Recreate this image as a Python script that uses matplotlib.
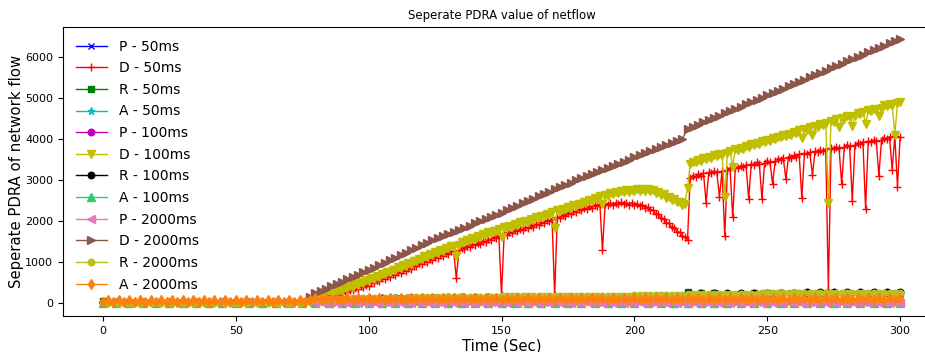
import matplotlib
matplotlib.use('Agg')
import matplotlib.pyplot as plt
import numpy as np

# ---------------- data ----------------
# dense series (one sample per second from t=78 s)
t_dense = np.arange(78, 301)

d_50ms = [10, 60,
          50, 110, 86, 150, 122, 185, 158, 220, 194, 255,
          230, 290, 266, 325, 302, 365, 340, 400, 380, 445,
          420, 490, 472, 545, 524, 595, 576, 650, 628, 700,
          680, 750, 732, 805, 784, 855, 837, 910, 891, 965,
          945, 1015, 997, 1070, 1049, 1120, 1100, 1170, 1150, 1220,
          1200, 1265, 1240, 600, 1280, 1345, 1320, 1385, 1360, 1425,
          1400, 1470, 1444, 1510, 1488, 1555, 1532, 1600, 1576, 1645,
          195, 1685, 1660, 1725, 1700, 1765, 1740, 1805, 1780, 1845,
          1820, 1885, 1860, 1925, 1900, 1965, 1942, 2010, 1986, 2055,
          195, 2100, 2078, 2145, 2126, 2195, 2170, 2235, 2210, 2275,
          2250, 2310, 2286, 2350, 2322, 2385, 2350, 2405, 1280, 2420,
          2385, 2435, 2391, 2440, 2397, 2445, 2398, 2440, 2394, 2435,
          2390, 2420, 2364, 2395, 2323, 2340, 2270, 2265, 2170, 2165,
          2063, 2050, 1950, 1940, 1843, 1835, 1733, 1720, 1620, 1615,
          1540, 3050, 3100, 3075, 3130, 3100, 3155, 2440, 3180, 3155,
          3210, 3180, 2590, 3210, 1630, 3235, 3290, 2080, 3315, 3290,
          3340, 3315, 3365, 2540, 3390, 3365, 3420, 3390, 2540, 3415,
          3460, 3435, 2900, 3460, 3515, 3490, 3540, 3020, 3565, 3540,
          3590, 3565, 3615, 2560, 3640, 3615, 3670, 3120, 3695, 3665,
          3720, 3695, 3745, 320, 3770, 3745, 3800, 3770, 2900, 3795,
          3850, 3820, 2490, 3850, 3900, 3870, 3925, 2290, 3950, 3920,
          3970, 3945, 3100, 3970, 4025, 3995, 4045, 3240, 4070, 2830,
          4050]

d_100ms = [20, 90,
           75, 140, 120, 180, 160, 220, 210, 280, 260, 325,
           305, 370, 350, 415, 395, 460, 440, 505, 485, 550,
           535, 600, 590, 655, 640, 705, 695, 760, 745, 810,
           800, 865, 850, 915, 900, 970, 955, 1020, 1010, 1075,
           1060, 1130, 1115, 1180, 1170, 1235, 1220, 1290, 1275, 1340,
           1325, 1390, 1375, 1130, 1420, 1490, 1475, 1540, 1520, 1585,
           1565, 1630, 1610, 1670, 1655, 1715, 1700, 1760, 1745, 1805,
           1610, 1840, 1820, 1880, 1860, 1920, 1900, 1960, 1940, 2000,
           1980, 2040, 2020, 2080, 2065, 2125, 2105, 2165, 2150, 2210,
           1830, 2250, 2230, 2290, 2275, 2335, 2315, 2380, 2360, 2420,
           2400, 2460, 2445, 2505, 2490, 2550, 2530, 2595, 2400, 2630,
           2610, 2665, 2640, 2695, 2670, 2725, 2695, 2745, 2710, 2755,
           2720, 2765, 2730, 2770, 2730, 2765, 2715, 2740, 2680, 2695,
           2630, 2640, 2565, 2580, 2510, 2520, 2450, 2460, 2390, 2420,
           2800, 3380, 3440, 3420, 3480, 3460, 3520, 3500, 3550, 3530,
           3590, 3570, 3630, 3610, 2590, 3650, 3710, 3320, 3740, 3720,
           3780, 3760, 3820, 3800, 3860, 3840, 3900, 3880, 3940, 3910,
           3970, 3950, 4010, 3990, 4050, 4030, 4090, 4070, 4120, 4100,
           4160, 4140, 4200, 4020, 4240, 4220, 4280, 4100, 4310, 4290,
           4350, 4330, 4390, 2440, 4430, 4410, 4470, 4290, 4500, 4480,
           4540, 4520, 4320, 4560, 4620, 4600, 4660, 4360, 4690, 4670,
           4730, 4710, 4540, 4750, 4810, 4790, 4850, 4830, 4100, 4860,
           4900]

# 2000 ms series (one sample every 2 s)
t_brown = np.arange(78, 301, 2)
d_2000ms = [150, 230, 287, 344, 401, 458, 515, 572, 629, 686, 743, 800,
            860, 920, 980, 1040, 1100, 1160, 1220, 1280, 1340, 1400, 1460, 1520,
            1572, 1624, 1676, 1728, 1780, 1832, 1884, 1936, 1988, 2040, 2092,
            2144, 2196,
            2253, 2310, 2367, 2424, 2481, 2538, 2595, 2652, 2709, 2766, 2823,
            2880,
            2931, 2982, 3033, 3084, 3135, 3186, 3237, 3288, 3339, 3390, 3441,
            3492, 3543,
            3593, 3643, 3693, 3743, 3793, 3843, 3893, 3943, 3993,
            4230, 4285, 4340, 4395, 4450, 4505, 4560, 4615, 4670, 4725,
            4780, 4835, 4890, 4945, 5000, 5055, 5110, 5165, 5220, 5275,
            5330, 5385, 5440, 5495, 5550, 5605, 5660, 5715, 5770, 5825,
            5880, 5935, 5990, 6045, 6100, 6155, 6210, 6265, 6320, 6375,
            6430]

t_2s = np.arange(0, 301, 2)
a_2000ms = [30, 60, 30, 60, 30, 60, 30, 60, 30, 60,
            30, 60, 30, 60, 30, 60, 30, 60, 30, 60,
            30, 60, 30, 60, 30, 60, 30, 60, 30, 60,
            30, 60, 30, 60, 30, 60, 30, 60, 30,
            70, 110, 70, 110, 70, 110, 70, 110, 70, 110,
            70, 110, 70, 110, 70, 110, 70, 110, 70, 110,
            70, 110, 70, 110, 70, 110, 70, 110, 70, 110,
            70, 110, 70, 110, 70, 110, 70, 110, 70, 110,
            70, 110, 70, 110, 70, 110, 70, 110, 70, 110,
            70, 110, 70, 110, 70, 110, 70, 110, 70, 110,
            70, 110, 70, 110, 70, 110, 70, 110, 70, 110,
            70, 110, 70, 110, 70, 110, 70, 110, 70, 110,
            70, 110, 70, 110, 70, 110, 70, 110, 70, 110,
            70, 110, 70, 110, 70, 110, 70, 110, 70, 110,
            70, 110, 70, 110, 70, 110, 70, 110, 70, 110,
            70, 110]
r_2000ms = [10, 0, 10, 0, 10, 0, 10, 0, 10, 0,
            10, 0, 10, 0, 10, 0, 10, 0, 10, 0,
            10, 0, 10, 0, 10, 0, 10, 0, 10, 0,
            10, 0, 10, 0, 10, 0, 10, 0, 10,
            80, 85, 90, 95, 100, 100, 105, 105, 110, 110,
            115, 115, 120, 120, 125, 125, 130, 130, 130, 135,
            135, 135, 140, 140, 140, 145, 145, 145, 150, 150,
            150, 150, 155, 155, 155, 155, 160, 160, 160, 160,
            160, 165, 165, 165, 165, 165, 170, 170, 170, 170,
            170, 170, 170, 175, 175, 175, 175, 175, 175, 175,
            175, 180, 180, 180, 180, 180, 180, 180, 180, 180,
            180,
            210, 212, 214, 216, 218, 220, 221, 222, 223, 224,
            225, 226, 227, 228, 229, 230, 231, 232, 233, 234,
            235, 235, 236, 236, 237, 237, 238, 238, 239, 239,
            240, 240, 240, 240, 240, 240, 240, 240, 240, 240,
            240]
t_pink = np.arange(80, 301, 2)
p_2000ms = [0, 15, 0, 15, 0, 15, 0, 15, 0, 15,
            0, 15, 0, 15, 0, 15, 0, 15, 0, 15,
            0, 15, 0, 15, 0, 15, 0, 15, 0, 15,
            0, 15, 0, 15, 0, 15, 0, 15, 0, 15,
            0, 15, 0, 15, 0, 15, 0, 15, 0, 15,
            0, 15, 0, 15, 0, 15, 0, 15, 0, 15,
            0, 15, 0, 15, 0, 15, 0, 15, 0, 15,
            0, 15, 0, 15, 0, 15, 0, 15, 0, 15,
            0, 15, 0, 15, 0, 15, 0, 15, 0, 15,
            0, 15, 0, 15, 0, 15, 0, 15, 0, 15,
            0, 15, 0, 15, 0, 15, 0, 15, 0, 15,
            0]

# 50/100 ms low-valued series (shown every 5 s)
t_5s = np.arange(0, 301, 5)
r_100ms = [30, 10, 10, 10, 10, 10, 10, 10, 10, 10,
           10, 10, 10, 10, 10, 10, 60, 90, 100, 105,
           110, 115, 120, 125, 130, 130, 135, 135, 140, 140,
           140, 145, 145, 145, 150, 150, 150, 150, 150, 150,
           150, 150, 150, 150, 235, 235, 240, 240, 245, 245,
           250, 250, 250, 255, 255, 255, 260, 260, 260, 265,
           265]
r_50ms = [40, 5, 5, 5, 5, 5, 5, 5, 5, 5,
          5, 5, 5, 5, 5, 5, 50, 80, 90, 95,
          100, 105, 110, 115, 120, 120, 125, 125, 130, 130,
          130, 135, 135, 135, 140, 140, 140, 140, 140, 140,
          140, 140, 140, 145, 260, 250, 240, 225, 225, 230,
          230, 235, 235, 240, 240, 240, 245, 245, 245, 250,
          250]
a_100ms = [0, 5, 0, 5, 0, 5, 0, 5, 0, 5,
           0, 5, 0, 5, 0, 5, 0, 5, 0, 5,
           0, 5, 0, 5, 0, 5, 0, 5, 0, 5,
           0, 5, 0, 5, 0, 5, 0, 5, 0, 5,
           0, 5, 0, 5, 0, 5, 0, 5, 0, 5,
           0, 5, 0, 5, 0, 5, 0, 5, 0, 5,
           0]
t_10s = np.arange(0, 301, 10)
p_50ms = [10, 10, 10, 10, 10, 10, 10, 10, 20, 20,
          20, 20, 20, 20, 20, 20, 20, 20, 20, 20,
          20, 20, 20, 20, 20, 20, 20, 20, 20, 20, 20]
a_50ms = [20, 20, 20, 20, 20, 20, 20, 20, 40, 40,
          40, 40, 40, 40, 40, 40, 40, 40, 40, 40,
          40, 40, 40, 40, 40, 40, 40, 40, 40, 40, 40]
p_100ms = [10, 10, 10, 10, 10, 10, 10, 10, 20, 20,
           20, 20, 20, 20, 20, 20, 20, 20, 20, 20,
           20, 20, 20, 20, 20, 20, 20, 20, 20, 20, 20]

labels = ['P - 50ms', 'D - 50ms', 'R - 50ms', 'A - 50ms',
          'P - 100ms', 'D - 100ms', 'R - 100ms', 'A - 100ms',
          'P - 2000ms', 'D - 2000ms', 'R - 2000ms', 'A - 2000ms']

# ---------------- plot ----------------
fig = plt.figure(figsize=(9.25, 3.52), dpi=100)
ax = fig.add_axes([63 / 925, 36 / 352, 877 / 925, 289 / 352])

series = [
    (t_10s, p_50ms, 'b', 'x', 5),
    (t_dense, d_50ms, 'r', '+', 6),
    (t_5s, r_50ms, 'g', 's', 5),
    (t_10s, a_50ms, 'c', '*', 6),
    (t_10s, p_100ms, 'm', 'o', 5.5),
    (t_dense, d_100ms, 'y', 'v', 6),
    (t_5s, r_100ms, 'k', 'o', 5.5),
    (t_5s, a_100ms, '#2ecc71', '^', 6),
    (t_pink, p_2000ms, '#e377c2', '<', 6),
    (t_brown, d_2000ms, '#8c564b', '>', 6),
    (t_2s, r_2000ms, '#bcbd22', 'o', 5.5),
    (t_2s, a_2000ms, '#ff7f0e', 'd', 6),
]
for (tx, vals, col, mk, ms), lab in zip(series, labels):
    ax.plot(tx, vals, color=col, marker=mk, markersize=ms - 0.8, linewidth=1,
            label=lab)

ax.set_xlim(-15, 315)
ax.set_ylim(-320, 6720)
ax.set_xticks([0, 50, 100, 150, 200, 250, 300])
ax.set_yticks([0, 1000, 2000, 3000, 4000, 5000, 6000])
ax.tick_params(labelsize=8)
ax.set_xlabel('Time (Sec)', fontsize=10.7, labelpad=2)
ax.set_ylabel('Seperate PDRA of network flow', fontsize=10.7, labelpad=1)
ax.set_title('Seperate PDRA value of netflow', fontsize=8.5)
ax.legend(loc='upper left', frameon=False, fontsize=10, labelspacing=0.55,
          handlelength=2.3)

fig.savefig('out.png', dpi=100)
